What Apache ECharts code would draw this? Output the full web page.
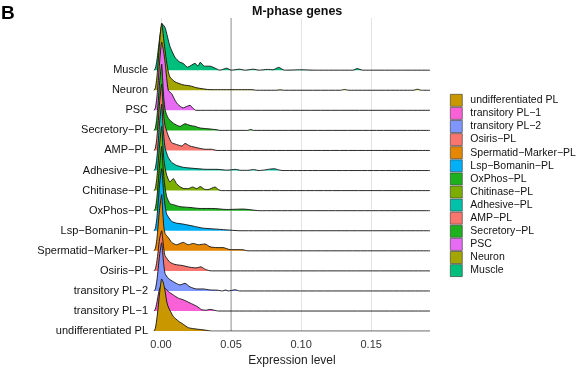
<!DOCTYPE html>
<html>
<head>
<meta charset="utf-8">
<script src="https://cdn.jsdelivr.net/npm/echarts@6/dist/echarts.min.js"></script>
<style>
  html, body { margin: 0; padding: 0; background: #fff; }
  #chart { width: 577px; height: 372px; }
</style>
</head>
<body>
<div id="chart"></div>
<script>
// categories from bottom row to top row (legend uses the same order)
const categories = [
  "undifferentiated PL", "transitory PL−1", "transitory PL−2", "Osiris−PL",
  "Spermatid−Marker−PL", "Lsp−Bomanin−PL", "OxPhos−PL", "Chitinase−PL",
  "Adhesive−PL", "AMP−PL", "Secretory−PL", "PSC", "Neuron", "Muscle"
]
const colors = [
  "#C99800", "#FB61D7", "#7F96FF", "#F8766D",
  "#E58700", "#00B0F6", "#1DB21D", "#7CAE00",
  "#00C1AA", "#F8766D", "#1DB21D", "#E76BF3", "#A3A500", "#00BF7D"
]
const xTicks = [0, 0.05, 0.1, 0.15]
const threshold = 0.05

// ridge heights: [expression level, height in rows]
const undiff = [[-0.005,0],[-0.004,0.15],[-0.003,0.6],[-0.002,1.2],[-0.001,1.9],[0.0005,2.6],[0.0017,2.4],[0.0029,2.0],[0.004,1.5],[0.0052,1.2],[0.0088,0.73],[0.0124,0.5],[0.0159,0.34],[0.0195,0.17],[0.0255,0.1],[0.0314,0.05],[0.036,0],[0.192,0]]
const tpl1 = [[-0.005,0],[-0.004,0.1],[-0.003,0.4],[-0.002,0.8],[-0.001,1.1],[0.0005,1.3],[0.0029,1.14],[0.0052,0.97],[0.0088,0.8],[0.0124,0.64],[0.0159,0.56],[0.0207,0.4],[0.0255,0.24],[0.029,0.07],[0.032,0.04],[0.035,0.08],[0.038,0.04],[0.041,0],[0.192,0]]
const tpl2 = [[-0.005,0],[-0.004,0.1],[-0.003,0.5],[-0.002,1.1],[-0.001,1.8],[0.0005,2.4],[0.0012,1.9],[0.002,1.3],[0.0029,0.87],[0.0052,0.63],[0.0088,0.46],[0.0136,0.3],[0.0171,0.38],[0.0207,0.2],[0.0255,0.1],[0.03,0.1],[0.035,0.05],[0.04,0.04],[0.044,0],[0.046,0.05],[0.048,0],[0.053,0.06],[0.056,0],[0.192,0]]
const osiris = [[-0.005,0],[-0.004,0.1],[-0.003,0.45],[-0.002,1.0],[-0.001,1.6],[0.0005,2.0],[0.0012,1.6],[0.002,1.1],[0.0029,0.76],[0.0064,0.43],[0.01,0.32],[0.015,0.27],[0.0207,0.18],[0.025,0.15],[0.0285,0.2],[0.031,0.1],[0.034,0.02],[0.036,0],[0.192,0]]
const spermatid = [[-0.005,0],[-0.004,0.12],[-0.003,0.55],[-0.002,1.3],[-0.001,2.1],[0.0005,2.8],[0.0012,2.0],[0.002,1.2],[0.003,0.85],[0.0052,0.66],[0.0076,0.42],[0.011,0.3],[0.0159,0.42],[0.0195,0.3],[0.023,0.37],[0.0266,0.3],[0.0314,0.34],[0.035,0.2],[0.04,0.16],[0.0443,0.16],[0.0493,0.06],[0.0543,0.06],[0.0586,0.05],[0.062,0],[0.192,0]]
const lsp = [[-0.005,0],[-0.004,0.12],[-0.003,0.6],[-0.002,1.4],[-0.001,2.3],[0.0005,3.1],[0.0012,2.5],[0.002,1.8],[0.003,1.2],[0.0041,0.82],[0.0076,0.47],[0.011,0.38],[0.0159,0.33],[0.023,0.23],[0.03,0.13],[0.04,0.08],[0.0493,0.03],[0.0564,0],[0.192,0]]
const oxphos = [[-0.005,0],[-0.004,0.12],[-0.003,0.6],[-0.002,1.4],[-0.001,2.3],[0.0005,3.2],[0.0012,2.5],[0.002,1.7],[0.003,1.1],[0.0041,0.69],[0.0064,0.35],[0.0088,0.3],[0.0136,0.2],[0.0207,0.16],[0.0279,0.11],[0.037,0.11],[0.047,0.06],[0.0586,0.08],[0.0657,0.03],[0.07,0],[0.192,0]]
const chitinase = [[-0.005,0],[-0.004,0.12],[-0.003,0.6],[-0.002,1.4],[-0.001,2.3],[0.0005,3.2],[0.0012,2.4],[0.002,1.6],[0.003,1.1],[0.0041,0.76],[0.0064,0.43],[0.0088,0.6],[0.011,0.35],[0.0136,0.19],[0.0165,0.1],[0.0195,0.1],[0.0225,0.18],[0.0255,0.1],[0.028,0.2],[0.031,0.07],[0.0335,0.05],[0.0385,0.18],[0.041,0.05],[0.043,0],[0.192,0]]
const adhesive = [[-0.005,0],[-0.004,0.12],[-0.003,0.6],[-0.002,1.4],[-0.001,2.4],[0.0005,3.3],[0.0012,2.5],[0.002,1.7],[0.003,1.1],[0.0052,0.65],[0.0076,0.41],[0.011,0.26],[0.0159,0.16],[0.023,0.11],[0.0326,0.06],[0.04,0.06],[0.047,0.02],[0.0505,0.04],[0.053,0.06],[0.057,0.01],[0.062,0.01],[0.066,0.05],[0.07,0],[0.074,0.03],[0.0775,0.07],[0.081,0.09],[0.084,0.03],[0.087,0],[0.192,0]]
const amp = [[-0.005,0],[-0.004,0.12],[-0.003,0.6],[-0.002,1.4],[-0.001,2.4],[0.0005,3.3],[0.0012,2.5],[0.002,1.7],[0.003,1.2],[0.0052,0.73],[0.0076,0.39],[0.011,0.3],[0.015,0.22],[0.0171,0.35],[0.0207,0.22],[0.0255,0.14],[0.0314,0.06],[0.036,0.06],[0.04,0],[0.192,0]]
const secretory = [[-0.005,0],[-0.004,0.12],[-0.003,0.6],[-0.002,1.4],[-0.001,2.4],[0.0005,3.3],[0.0012,2.5],[0.002,1.6],[0.003,1.0],[0.0052,0.6],[0.0088,0.36],[0.0136,0.2],[0.0171,0.33],[0.0207,0.25],[0.0243,0.2],[0.0279,0.12],[0.0336,0.08],[0.04,0.03],[0.042,0],[0.062,0],[0.064,0.05],[0.066,0],[0.192,0]]
const psc = [[-0.005,0],[-0.004,0.12],[-0.003,0.6],[-0.002,1.4],[-0.001,2.4],[0.0005,3.4],[0.0017,3.0],[0.0029,2.4],[0.004,1.64],[0.0052,1.0],[0.0076,0.83],[0.01,0.5],[0.012,0.3],[0.0157,0.12],[0.0186,0.2],[0.0207,0.25],[0.0229,0.1],[0.025,0],[0.192,0]]
const neuron = [[-0.005,0],[-0.004,0.12],[-0.003,0.6],[-0.002,1.4],[-0.001,2.4],[0.0005,3.35],[0.002,2.5],[0.0036,1.6],[0.005,1.0],[0.0064,0.66],[0.01,0.42],[0.0157,0.27],[0.0207,0.22],[0.0257,0.12],[0.035,0.03],[0.05,0.03],[0.065,0.03],[0.068,0],[0.082,0],[0.085,0.02],[0.088,0],[0.128,0],[0.131,0.04],[0.134,0],[0.18,0],[0.183,0.05],[0.186,0],[0.192,0]]
const muscle = [[-0.005,0],[-0.004,0.1],[-0.003,0.45],[-0.002,1.0],[-0.001,1.6],[0,2.1],[0.001,2.3],[0.003,2.1],[0.0064,1.18],[0.01,0.64],[0.013,0.42],[0.0157,0.34],[0.019,0.15],[0.0243,0.34],[0.0264,0.2],[0.028,0.39],[0.031,0.2],[0.035,0.2],[0.0386,0.1],[0.042,0],[0.047,0.1],[0.05,0],[0.056,0.05],[0.06,0],[0.066,0.05],[0.07,0],[0.076,0.04],[0.08,0.02],[0.084,0.14],[0.088,0],[0.1,0.02],[0.11,0],[0.137,0],[0.14,0.08],[0.144,0],[0.192,0]]

const ridges = [undiff, tpl1, tpl2, osiris, spermatid, lsp, oxphos, chitinase, adhesive, amp, secretory, psc, neuron, muscle]

const chart = echarts.init(document.getElementById("chart"))

const series = []
// top row first so the lower ridges overlap the ones above
for (let i = categories.length - 1; i >= 0; i--) {
  series.push({
    name: categories[i],
    type: "line",
    data: ridges[i].map(p => [p[0], i + p[1]]),
    smooth: 0.2,
    symbol: "none",
    z: 2 + (categories.length - 1 - i),
    lineStyle: { color: "#111", width: 0.9 },
    itemStyle: { color: colors[i] },
    areaStyle: { color: colors[i], opacity: 1, origin: i },
    silent: true
  })
}
series.push({
  name: "threshold",
  type: "line",
  data: [[threshold, 0], [threshold, 15.6]],
  symbol: "none",
  z: 1,
  lineStyle: { color: "#a8a8a8", width: 1.2 },
  silent: true
})

chart.setOption({
  animation: false,
  title: [
    { text: "B", left: 1, top: 4, padding: 0, textStyle: { fontSize: 19, fontWeight: "bold", color: "#000", fontFamily: "Liberation Sans" } },
    { text: "M-phase genes", left: 252, top: 5, padding: 0, textStyle: { fontSize: 12.5, fontWeight: "bold", color: "#111", fontFamily: "Liberation Sans" } }
  ],
  legend: {
    data: categories,
    orient: "vertical",
    left: 450,
    top: 94,
    padding: 0,
    itemWidth: 12,
    itemHeight: 12,
    itemGap: 0.5,
    icon: "rect",
    itemStyle: { borderColor: "#333", borderWidth: 0.6 },
    textStyle: { fontSize: 10.5, lineHeight: 12, color: "#111", fontFamily: "Liberation Sans", padding: [0, 0, 0, 3] },
    selectedMode: false
  },
  grid: { left: 154, right: 147, top: 18, bottom: 35 },
  xAxis: {
    type: "value",
    min: -0.005,
    max: 0.192,
    splitNumber: 4,
    name: "Expression level",
    nameLocation: "middle",
    nameGap: 22,
    nameTextStyle: { fontSize: 12, color: "#222", fontFamily: "Liberation Sans" },
    axisLine: { show: false },
    axisTick: { show: false },
    axisLabel: {
      margin: 8,
      fontSize: 11,
      color: "#333",
      fontFamily: "Liberation Sans",
      showMinLabel: false,
      showMaxLabel: false,
      formatter: v => xTicks.some(t => Math.abs(t - v) < 1e-9) ? v.toFixed(2) : ""
    },
    splitLine: { show: true, showMinLine: false, showMaxLine: false, lineStyle: { color: "#e3e3e3", width: 1 } }
  },
  yAxis: {
    type: "value",
    min: 0,
    max: 15.6,
    interval: 1,
    axisLine: { show: false },
    axisTick: { show: false },
    splitLine: { show: false },
    axisLabel: {
      margin: 6,
      fontSize: 11,
      color: "#111",
      fontFamily: "Liberation Sans",
      verticalAlign: "middle",
      padding: [0, 0, 6, 0],
      formatter: v => categories[v] || ""
    }
  },
  series: series
})
</script>
</body>
</html>
